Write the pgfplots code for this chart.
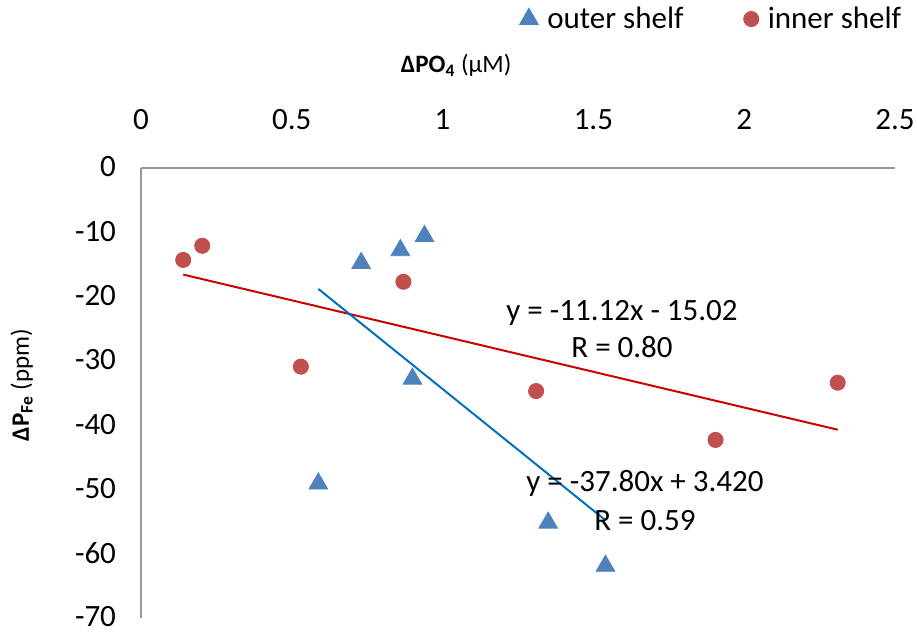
\documentclass[border=0pt]{standalone}
\usepackage{fontspec}
\setmainfont{Carlito}
\usepackage{pgfplots}
\pgfplotsset{compat=1.18}
\definecolor{triblue}{RGB}{79,129,189}
\definecolor{dotred}{RGB}{192,80,77}
\definecolor{linered}{RGB}{204,0,0}
\definecolor{lineblue}{RGB}{0,112,192}
\definecolor{axgray}{RGB}{150,150,150}
\begin{document}
\begin{tikzpicture}
\begin{axis}[
 scale only axis, width=377pt, height=225pt,
 xmin=0, xmax=2.5, ymin=-70, ymax=0,
 axis x line*=top, axis y line*=left,
 axis line style={axgray, line width=0.75pt},
 major tick length=0pt,
 xtick={0,0.5,1,1.5,2,2.5}, xticklabels={0,0.5,1,1.5,2,2.5},
 ytick={-70,-60,-50,-40,-30,-20,-10,0},
 yticklabels={-70,-60,-50,-40,-30,-20,-10,0},
 tick label style={font=\fontsize{15.5}{18}\selectfont, text=black},
 xticklabel style={yshift=15.5pt},
 yticklabel style={xshift=-9pt, yshift=0.5pt},
 clip=false,
 legend style={draw=none, fill=none, at={(1.022,1.331)}, anchor=east,
   font=\fontsize{15.5}{18}\selectfont, legend columns=2,
   /tikz/every odd column/.append style={column sep=2.5pt},
   /tikz/every even column/.append style={column sep=28pt}},
 legend cell align=left,
]
\addplot[linered, line width=1pt, forget plot] coordinates {(0.14,-16.58) (2.31,-40.71)};
\addplot[lineblue, line width=1pt, forget plot] coordinates {(0.588,-18.81) (1.54,-54.79)};
\addplot[only marks, mark=triangle*, mark size=5.4pt, color=triblue] coordinates {
 (0.588,-49.1) (0.73,-14.8) (0.86,-12.8) (0.94,-10.6) (0.90,-32.8) (1.35,-55.2) (1.54,-61.9)};
\addlegendentry{outer shelf}
\addplot[only marks, mark=*, mark size=3.8pt, color=dotred] coordinates {
 (0.14,-14.3) (0.203,-12.1) (0.53,-30.9) (0.87,-17.7) (1.31,-34.7) (1.905,-42.3) (2.31,-33.4)};
\addlegendentry{inner shelf}
\node[align=center, font=\fontsize{15.5}{18.5}\selectfont] at (axis cs:1.595,-25.1) {y = -11.12x - 15.02\\R = 0.80};
\node[align=center, font=\fontsize{15.5}{19.5}\selectfont] at (axis cs:1.671,-51.7) {y = -37.80x + 3.420\\R = 0.59};
\node[font=\fontsize{12.5}{14}\selectfont] at (rel axis cs:0.418,1.227) {\textbf{ΔPO\textsubscript{4}} (μM)};
\node[font=\fontsize{12.5}{14}\selectfont, rotate=90] at (rel axis cs:-0.158,0.518) {\textbf{ΔP\textsubscript{Fe}} (ppm)};
\end{axis}
\pgfresetboundingbox
\path[use as bounding box] ([xshift=-70.5pt,yshift=84pt]current axis.north west) rectangle ([xshift=11pt,yshift=-8.5pt]current axis.south east);
\end{tikzpicture}
\end{document}
